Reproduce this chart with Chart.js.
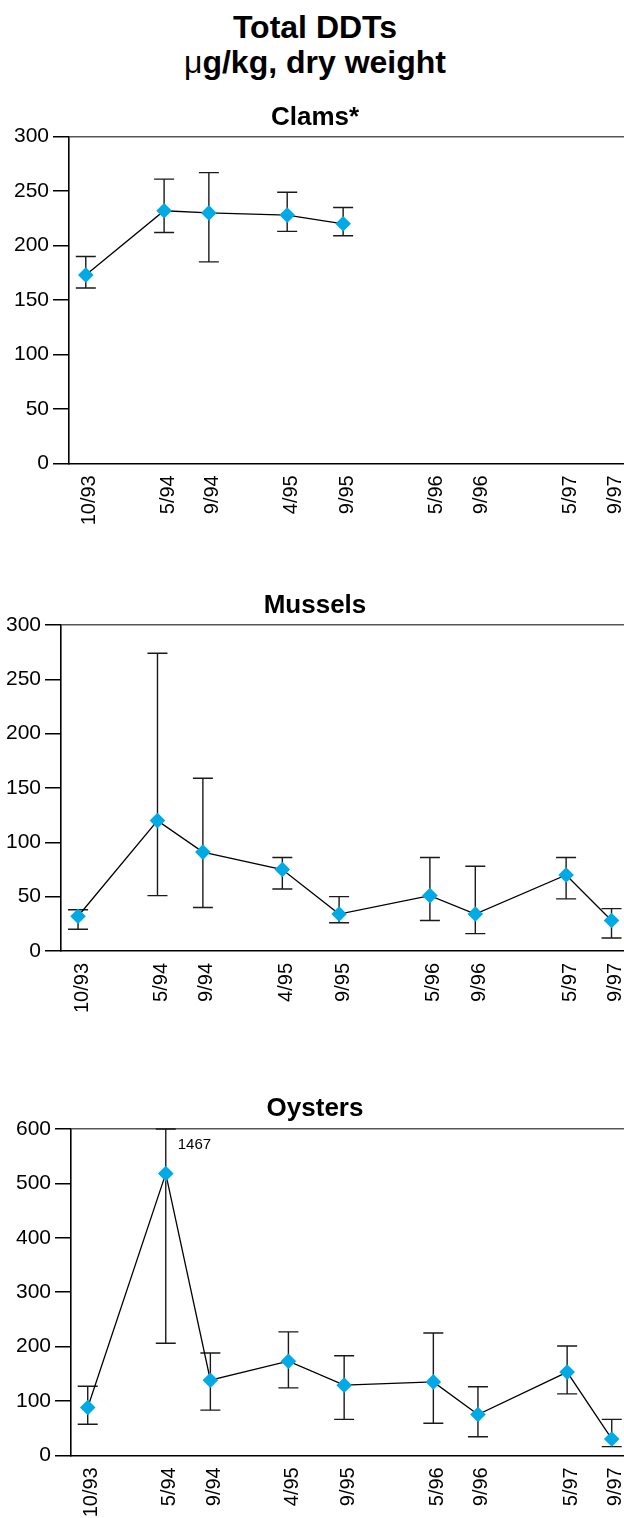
<!DOCTYPE html>
<html>
<head>
<meta charset="utf-8">
<script src="https://cdn.jsdelivr.net/npm/chart.js@4/dist/chart.umd.min.js"></script>
<style>
  html, body { margin: 0; padding: 0; background: #fff; }
  body { width: 624px; height: 1518px; position: relative; overflow: hidden;
         font-family: "Liberation Sans", Arial, Helvetica, sans-serif; }
  #heading { position: absolute; left: 0; top: 10px; width: 630px; text-align: center;
             font-weight: bold; font-size: 32px; line-height: 34.5px; color: #000; }
  #heading .mu { font-weight: normal; }
  canvas { position: absolute; left: 0; }
</style>
</head>
<body>
<div id="heading">Total DDTs<br><span class="mu">μ</span>g/kg, dry weight</div>
<canvas id="clams" width="624" height="560" style="top:0px"></canvas>
<canvas id="mussels" width="624" height="520" style="top:560px"></canvas>
<canvas id="oysters" width="624" height="438" style="top:1080px"></canvas>
<script>
// Sampling dates (month/year) shown on every x axis
const sampleDates = ['10/93', '5/94', '9/94', '4/95', '9/95', '5/96', '9/96', '5/97', '9/97'];

// Clams: mean with upper / lower range
const clamDates = ['10/93', '5/94', '9/94', '4/95', '9/95'];
const clamMean  = [173, 232, 230, 228, 220];
const clamHigh  = [190, 261, 267, 249, 235];
const clamLow   = [161, 212, 185, 213, 209];

// Mussels
const musselDates = sampleDates;
const musselMean  = [32, 120, 91, 75, 34, 51, 34, 70, 28];
const musselHigh  = [38, 274, 159, 86, 50, 86, 78, 86, 39];
const musselLow   = [20, 51, 40, 57, 26, 28, 16, 48, 12];

// Oysters (the 5/94 upper range runs off the axis)
const oysterDates = sampleDates;
const oysterMean  = [88, 518, 138, 173, 129, 135, 75, 153, 30];
const oysterHigh  = [127, 1467, 188, 227, 183, 225, 126, 201, 66];
const oysterLow   = [57, 206, 83, 124, 66, 59, 34, 113, 16];

// Y axis ranges: min, max, step
const clamAxis   = [0, 300, 50];
const musselAxis = [0, 300, 50];
const oysterAxis = [0, 600, 100];

// months elapsed since October 1993
function monthIndex(label) {
  const [m, yy] = label.split('/').map(Number);
  return (1900 + yy) * 12 + (m - 1) - (1993 * 12 + 9);
}

Chart.defaults.font.family = '"Liberation Sans", Arial, Helvetica, sans-serif';
Chart.defaults.color = '#000';

// vertical range bars with caps, drawn beneath the markers
const rangeBars = {
  id: 'rangeBars',
  beforeDatasetsDraw(chart) {
    const { ctx, scales: { x, y } } = chart;
    const pts = chart.data.datasets[0].data;
    ctx.save();
    ctx.strokeStyle = '#1a1a1a';
    ctx.lineWidth = 1.4;
    pts.forEach(p => {
      const px = x.getPixelForValue(p.x);
      const top = y.getPixelForValue(Math.min(p.hi, y.max));
      const bot = y.getPixelForValue(Math.max(p.lo, y.min));
      ctx.beginPath();
      ctx.moveTo(px, top); ctx.lineTo(px, bot);
      ctx.moveTo(px - 10, top); ctx.lineTo(px + 10, top);
      ctx.moveTo(px - 10, bot); ctx.lineTo(px + 10, bot);
      ctx.stroke();
    });
    ctx.restore();
  }
};

// prints the value of any range that extends past the top of the axis
const offscaleNote = {
  id: 'offscaleNote',
  afterDatasetsDraw(chart) {
    const { ctx, scales: { x, y }, chartArea } = chart;
    chart.data.datasets[0].data.forEach(p => {
      if (p.hi > y.max) {
        ctx.save();
        ctx.font = '15px "Liberation Sans", Arial, sans-serif';
        ctx.fillStyle = '#000';
        ctx.textBaseline = 'middle';
        ctx.textAlign = 'left';
        ctx.fillText(String(p.hi), x.getPixelForValue(p.x) + 12, chartArea.top + 16);
        ctx.restore();
      }
    });
  }
};

function buildChart(id, title, dates, mean, high, low, axis, o) {
  const points = dates.map((d, i) => ({ x: monthIndex(d), y: mean[i], hi: high[i], lo: low[i] }));
  const [yMin, yMax, yStep] = axis;
  return new Chart(document.getElementById(id), {
    type: 'line',
    data: {
      datasets: [{
        data: points,
        borderColor: '#000',
        borderWidth: 1.3,
        tension: 0,
        pointStyle: 'rectRot',
        pointRadius: 7.8,
        pointBackgroundColor: '#00AAE7',
        pointBorderColor: '#00AAE7',
        pointBorderWidth: 0
      }]
    },
    options: {
      responsive: false,
      animation: false,
      devicePixelRatio: 1,
      layout: { autoPadding: false, padding: { left: 6, right: 0, top: 0, bottom: 0 } },
      plugins: {
        legend: { display: false },
        tooltip: { enabled: false },
        title: {
          display: true,
          text: title,
          color: '#000',
          font: { size: 26, weight: 'bold', lineHeight: 1.2 },
          padding: { top: o.titleTop, bottom: o.titleBottom }
        }
      },
      scales: {
        x: {
          type: 'linear',
          min: -1.5,
          max: 48.1,
          afterBuildTicks: s => { s.ticks = sampleDates.map(d => ({ value: monthIndex(d) })); },
          ticks: {
            autoSkip: false,
            minRotation: 90,
            maxRotation: 90,
            padding: 12,
            labelOffset: 4,
            font: { size: 20 },
            color: '#000',
            callback: (v, i) => sampleDates[i]
          },
          grid: { display: false, drawTicks: false },
          border: { display: true, color: '#000', width: 1.6 },
          afterFit: s => { s.height = o.xAxisHeight; s.paddingLeft = 0; s.paddingRight = 0; }
        },
        y: {
          min: yMin,
          max: yMax,
          ticks: { stepSize: yStep, padding: 4, font: { size: 21 }, color: '#000' },
          grid: {
            color: c => (c.tick && c.tick.value === yMax) ? '#555' : 'rgba(0,0,0,0)',
            tickColor: '#000',
            tickLength: 16,
            lineWidth: 1.5
          },
          border: { display: true, color: '#000', width: 1.6 },
          afterFit: s => { s.width = o.axisX - 6; s.paddingTop = 0; s.paddingBottom = 0; }
        }
      }
    },
    plugins: [rangeBars, offscaleNote]
  });
}

buildChart('clams', 'Clams*', clamDates, clamMean, clamHigh, clamLow, clamAxis,
  { axisX: 69, titleTop: 102.4, titleBottom: 3.1, xAxisHeight: 96.7 });
buildChart('mussels', 'Mussels', musselDates, musselMean, musselHigh, musselLow, musselAxis,
  { axisX: 61, titleTop: 29.8, titleBottom: 4, xAxisHeight: 129 });
buildChart('oysters', 'Oysters', oysterDates, oysterMean, oysterHigh, oysterLow, oysterAxis,
  { axisX: 71, titleTop: 13.6, titleBottom: 4.2, xAxisHeight: 62.7 });
</script>
</body>
</html>
